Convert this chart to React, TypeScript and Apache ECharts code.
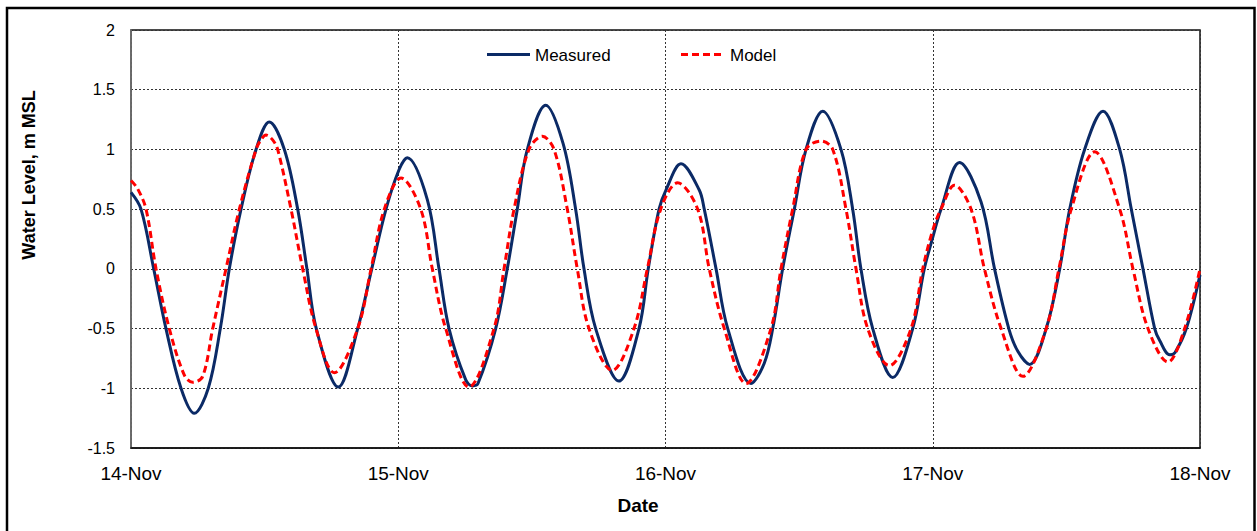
import React, { useEffect, useRef } from "react";
import * as echarts from "echarts";

// Time in hours from 14-Nov 00:00, water level in m MSL
const measured: [number, number][] = [
  [0, 0.64], [0.9, 0.5], [2.04, 0], [3.14, -0.5], [4.49, -1.0], [5.68, -1.21],
  [6.94, -1.0], [8.02, -0.5], [8.83, 0], [9.88, 0.5], [11.23, 1.0],
  [12.42, 1.23], [13.77, 1.0], [14.97, 0.5], [15.8, 0], [16.64, -0.5],
  [18.62, -0.99], [20.36, -0.5], [21.62, 0], [22.9, 0.5], [24.07, 0.83], [24.81, 0.93],
  [26.61, 0.58], [27.66, 0], [28.56, -0.5], [30.06, -0.93], [30.65, -0.98], [31.16, -0.96],
  [32.75, -0.5], [33.79, 0], [34.69, 0.5], [35.59, 1.0], [37.24, 1.37], [38.8, 1.05],
  [39.93, 0.5], [40.68, 0], [41.73, -0.5], [43.82, -0.94], [45.62, -0.5], [46.45, 0],
  [47.42, 0.5], [48.04, 0.66], [49.39, 0.88], [51.03, 0.66], [51.48, 0.5], [52.54, 0],
  [53.59, -0.5], [55.68, -0.96], [56.87, -0.79], [57.63, -0.5], [58.52, 0], [59.57, 0.5],
  [60.62, 1.0], [62.12, 1.32], [63.76, 1.0], [64.81, 0.5], [65.55, 0], [66.61, -0.5],
  [68.4, -0.91], [70.2, -0.5], [71.24, 0], [72.02, 0.27], [72.74, 0.5], [74.4, 0.89],
  [76.34, 0.56], [77.55, 0], [78.83, -0.5], [79.64, -0.69], [80.7, -0.8], [82.19, -0.5],
  [83.4, 0], [84.3, 0.5], [85.64, 1.0], [87.29, 1.32], [88.79, 1.0], [89.83, 0.5],
  [90.88, 0], [91.93, -0.5], [92.38, -0.6], [93.28, -0.72], [93.76, -0.7], [94.77, -0.5],
  [96, -0.05],
];

const model: [number, number][] = [
  [0, 0.74], [0.6, 0.67], [1.35, 0.5], [2.25, 0], [3.44, -0.5], [4.79, -0.89], [5.54, -0.95],
  [6.44, -0.9], [7.34, -0.5], [8.53, 0], [9.73, 0.5], [11.23, 1.0], [11.67, 1.08],
  [12.12, 1.12], [12.72, 1.08], [13.17, 1.0], [14.37, 0.5], [15.42, 0], [16.61, -0.5],
  [18.26, -0.87], [20.36, -0.5], [21.56, 0], [22.75, 0.5], [24.25, 0.76], [26.02, 0.5],
  [27.06, 0], [28.26, -0.5], [30.35, -0.99], [32.6, -0.5], [33.5, 0], [34.4, 0.5],
  [35.74, 1.0], [36.94, 1.11], [37.99, 1.0], [39.18, 0.5], [40.08, 0], [41.13, -0.5],
  [43.22, -0.85], [45.17, -0.5], [46.37, 0], [47.57, 0.5], [49.09, 0.72], [50.89, 0.5],
  [51.93, 0], [53.28, -0.5], [55.23, -0.96], [57.47, -0.5], [58.37, 0], [59.42, 0.5],
  [60.62, 1.0], [61.96, 1.07], [63.02, 1.0], [64.21, 0.5], [65.11, 0], [66.16, -0.5],
  [68.1, -0.81], [70.05, -0.5], [71.1, 0], [72.02, 0.33], [72.74, 0.5], [73.95, 0.7],
  [75.44, 0.5], [76.64, 0], [78.14, -0.5], [80.09, -0.9], [82.19, -0.5], [83.33, 0],
  [84.44, 0.5], [86.54, 0.98], [88.79, 0.5], [89.98, 0], [91.33, -0.5], [93.12, -0.78],
  [94.62, -0.5], [96, 0],
];

const dateLabels = ["14-Nov", "15-Nov", "16-Nov", "17-Nov", "18-Nov"];
const seriesNames = ["Measured", "Model"];

const FONT = "'Liberation Sans', Arial, sans-serif";
const NAVY = "#0B2A66";
const RED = "#FF0000";

export default function App() {
  const ref = useRef<HTMLDivElement>(null);
  useEffect(() => {
    if (!ref.current) return;
    const chart = echarts.init(ref.current, undefined, { renderer: "svg" });
    chart.setOption({
      animation: false,
      backgroundColor: "#ffffff",
      grid: {
        left: 131,
        right: 57,
        top: 30,
        bottom: 83,
        show: true,
        borderColor: "#111",
        borderWidth: 1.5,
      },
      legend: { show: false },
      xAxis: {
        type: "value",
        min: 0,
        max: 96,
        interval: 24,
        axisLine: { show: true, onZero: false, lineStyle: { color: "#111", width: 1.5 } },
        axisTick: { show: false },
        axisLabel: {
          fontFamily: FONT,
          fontSize: 19,
          color: "#000",
          margin: 16,
          formatter: (v: number) => dateLabels[Math.round(v / 24)] ?? "",
        },
        splitLine: {
          show: true,
          lineStyle: { color: "#333", width: 1, type: [2, 2] },
        },
      },
      yAxis: {
        type: "value",
        min: -1.5,
        max: 2,
        interval: 0.5,
        axisLine: { show: true, lineStyle: { color: "#777", width: 1.5 } },
        axisTick: { show: false },
        axisLabel: {
          fontFamily: FONT,
          fontSize: 16,
          color: "#000",
          margin: 16,
        },
        splitLine: {
          show: true,
          lineStyle: { color: "#333", width: 1, type: [2, 2] },
        },
      },
      series: [
        {
          name: seriesNames[0],
          type: "line",
          data: measured,
          symbol: "none",
          smooth: 0.35,
          lineStyle: { color: NAVY, width: 3 },
          itemStyle: { color: NAVY },
          z: 2,
        },
        {
          name: seriesNames[1],
          type: "line",
          data: model,
          symbol: "none",
          smooth: 0.35,
          lineStyle: { color: RED, width: 3, type: [7, 4] },
          itemStyle: { color: RED },
          z: 3,
        },
      ],
      graphic: [
        {
          type: "rect",
          shape: { x: 7, y: 8, width: 1247.5, height: 540 },
          style: { fill: "none", stroke: "#000", lineWidth: 2.5 },
          silent: true,
        },
        {
          type: "line",
          shape: { x1: 487, y1: 54.5, x2: 530, y2: 54.5 },
          style: { stroke: NAVY, lineWidth: 3 },
        },
        {
          type: "text",
          x: 535,
          y: 55,
          style: {
            text: seriesNames[0],
            font: `17px ${FONT}`,
            fill: "#000",
            textAlign: "left",
            textVerticalAlign: "middle",
          },
        },
        {
          type: "line",
          shape: { x1: 681, y1: 54.5, x2: 725, y2: 54.5 },
          style: { stroke: RED, lineWidth: 3, lineDash: [7, 4] },
        },
        {
          type: "text",
          x: 730,
          y: 55,
          style: {
            text: seriesNames[1],
            font: `17px ${FONT}`,
            fill: "#000",
            textAlign: "left",
            textVerticalAlign: "middle",
          },
        },
        {
          type: "text",
          x: 29,
          y: 175,
          rotation: Math.PI / 2,
          style: {
            text: "Water Level, m MSL",
            font: `bold 18px ${FONT}`,
            fill: "#000",
            textAlign: "center",
            textVerticalAlign: "middle",
          },
        },
        {
          type: "text",
          x: 638,
          y: 505,
          style: {
            text: "Date",
            font: `bold 19px ${FONT}`,
            fill: "#000",
            textAlign: "center",
            textVerticalAlign: "middle",
          },
        },
      ],
    });
    return () => chart.dispose();
  }, []);
  return (
    <div
      ref={ref}
      style={{ position: "fixed", left: 0, top: 0, width: 1257, height: 531 }}
    />
  );
}
